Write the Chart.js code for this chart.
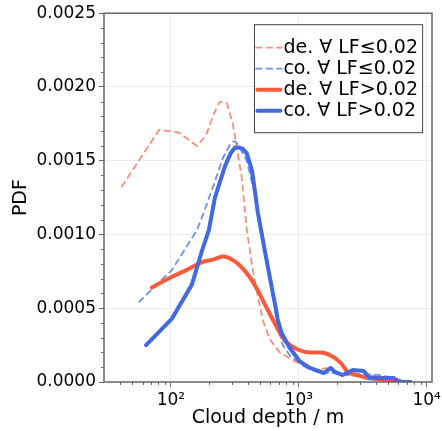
<!DOCTYPE html>
<html>
<head>
<meta charset="utf-8">
<script src="https://cdn.jsdelivr.net/npm/chart.js@4.4.1/dist/chart.umd.min.js"></script>
<style>
  html, body { margin: 0; padding: 0; background: #fff; }
  #wrap { width: 442px; height: 431px; }
</style>
</head>
<body>
<div id="wrap"><canvas id="pdfChart" width="442" height="431"></canvas></div>
<script>
// cloud depth (m) / PDF
const deLowDepth = [41, 81, 116, 160, 188, 217, 241, 274, 305, 328, 359, 392, 437, 478, 523, 593, 710, 898, 1155, 1383, 1655, 2090, 3000, 4066, 5141];
const deLowPdf = [0.00132, 0.00171, 0.00169, 0.00160, 0.00167, 0.00182, 0.00190, 0.00189, 0.00175, 0.00159, 0.00138, 0.00103, 0.00076, 0.00058, 0.00042, 0.00029, 0.00020, 0.00015, 0.000095, 0.000081, 0.000095, 0.000061, 0.000034, 0.000014, 0.0];

const coLowDepth = [56, 102, 131, 160, 181, 217, 255, 290, 305, 320, 334, 392, 445, 478, 542, 615, 673, 750, 851, 1018, 1383, 1844, 2503, 3278, 4294, 5623, 6978];
const coLowPdf = [0.00054, 0.00076, 0.00091, 0.00103, 0.00115, 0.00134, 0.00152, 0.00161, 0.00163, 0.00163, 0.00161, 0.00150, 0.00130, 0.00117, 0.00093, 0.00062, 0.00042, 0.00025, 0.00018, 0.00013, 0.000068, 0.000061, 0.000047, 0.000054, 0.000047, 0.000027, 0.0];

const deHighDepth = [71, 100, 133, 172, 213, 255, 300, 346, 414, 478, 533, 638, 763, 982, 1241, 1485, 1778, 2129, 2414, 2891, 3461, 4141, 4958, 5937];
const deHighPdf = [0.00064, 0.00071, 0.00076, 0.00081, 0.00083, 0.00085, 0.00083, 0.00079, 0.00071, 0.00062, 0.00054, 0.00041, 0.00029, 0.00022, 0.00020, 0.00020, 0.00018, 0.00013, 0.000068, 0.000047, 0.000027, 0.000020, 0.000014, 0.0];

const coHighDepth = [64, 102, 146, 175, 198, 221, 264, 293, 318, 340, 365, 392, 429, 453, 478, 542, 615, 661, 685, 736, 851, 1018, 1219, 1568, 1778, 1911, 2207, 2642, 3221, 3523, 4217, 5524, 5937, 7499];
const coHighPdf = [0.00025, 0.00043, 0.00066, 0.00089, 0.00103, 0.00125, 0.00146, 0.00155, 0.00159, 0.00159, 0.00158, 0.00155, 0.00144, 0.00130, 0.00115, 0.00089, 0.00064, 0.00050, 0.00042, 0.00033, 0.00023, 0.00014, 0.000095, 0.000061, 0.000095, 0.000068, 0.000047, 0.000081, 0.000075, 0.000034, 0.000027, 0.000027, 0.0, 0.0];

const seriesLabels = ['de. ∀ LF≤0.02', 'co. ∀ LF≤0.02', 'de. ∀ LF>0.02', 'co. ∀ LF>0.02'];

// axis ticks
const xMajorTicks = [100, 1000, 10000];
const xTickLabels = ['10²', '10³', '10⁴'];
const xMinorTicks = [40, 50, 60, 70, 80, 90, 200, 300, 400, 500, 600, 700, 800, 900, 2000, 3000, 4000, 5000, 6000, 7000, 8000, 9000];
const yMajorTicks = [0, 0.0005, 0.001, 0.0015, 0.002, 0.0025];
const yMinorTicks = [0.0001, 0.0002, 0.0003, 0.0004, 0.0006, 0.0007, 0.0008, 0.0009, 0.0011, 0.0012, 0.0013, 0.0014, 0.0016, 0.0017, 0.0018, 0.0019, 0.0021, 0.0022, 0.0023, 0.0024];

const toPoints = (xs, ys) => xs.map((x, i) => ({ x: x, y: ys[i] }));

const FONT = 'DejaVu Sans';

// minor ticks + full frame (matplotlib style spines)
const frameAndMinor = {
  id: 'frameAndMinor',
  afterDatasetsDraw(chart) {
    const { ctx, chartArea: a, scales: { x, y } } = chart;
    ctx.save();
    ctx.strokeStyle = '#666';
    ctx.lineWidth = 1;
    ctx.beginPath();
    xMinorTicks.forEach(v => {
      const px = Math.round(x.getPixelForValue(v)) + 0.5;
      ctx.moveTo(px, a.bottom);
      ctx.lineTo(px, a.bottom + 3);
    });
    yMinorTicks.forEach(v => {
      const py = Math.round(y.getPixelForValue(v)) + 0.5;
      ctx.moveTo(a.left, py);
      ctx.lineTo(a.left - 3, py);
    });
    ctx.stroke();
    ctx.lineWidth = 1.5;
    ctx.strokeRect(a.left, a.top, a.right - a.left, a.bottom - a.top);
    ctx.restore();
  }
};

// legend box inside the plot, upper right
const boxLegend = {
  id: 'boxLegend',
  afterDraw(chart) {
    const { ctx, chartArea: a } = chart;
    const sets = chart.data.datasets;
    ctx.save();
    ctx.font = '19px "' + FONT + '"';
    const textW = Math.max(...sets.map(d => ctx.measureText(d.label).width));
    const handle = 27, padL = 1.5, padR = 4, rowH = 21;
    const w = padL + handle + 1 + textW + padR;
    const h = 108;
    const right = a.right - 10, top = a.top + 11, left = right - w;
    ctx.fillStyle = 'rgba(255,255,255,0.8)';
    ctx.fillRect(left, top, w, h);
    ctx.strokeStyle = '#444';
    ctx.lineWidth = 1;
    ctx.strokeRect(Math.round(left) + 0.5, top + 0.5, w, h);
    sets.forEach((d, i) => {
      const cy = top + 23.5 + i * rowH;
      ctx.strokeStyle = d.borderColor;
      ctx.lineWidth = d.borderWidth;
      ctx.lineCap = d.borderCapStyle;
      ctx.setLineDash(d.borderDash || []);
      ctx.beginPath();
      ctx.moveTo(left + padL + (d.borderDash ? 0 : 2), cy);
      ctx.lineTo(left + padL + handle - (d.borderDash ? 0 : 2), cy);
      ctx.stroke();
      ctx.setLineDash([]);
      ctx.fillStyle = '#000';
      ctx.textBaseline = 'middle';
      ctx.fillText(d.label, left + padL + handle + 1, cy);
    });
    ctx.restore();
  }
};

const ctx = document.getElementById('pdfChart').getContext('2d');
new Chart(ctx, {
  type: 'line',
  data: {
    datasets: [
      {
        label: seriesLabels[0],
        data: toPoints(deLowDepth, deLowPdf),
        borderColor: '#F4907E',
        borderWidth: 1.8,
        borderDash: [7, 3.5],
        borderCapStyle: 'butt',
        order: 4,
      },
      {
        label: seriesLabels[1],
        data: toPoints(coLowDepth, coLowPdf),
        borderColor: '#6F8FEA',
        borderWidth: 1.8,
        borderDash: [7, 3.5],
        borderCapStyle: 'butt',
        order: 3,
      },
      {
        label: seriesLabels[2],
        data: toPoints(deHighDepth, deHighPdf),
        borderColor: '#FA5A3C',
        borderWidth: 4,
        borderCapStyle: 'round',
        cubicInterpolationMode: 'monotone',
        order: 2,
      },
      {
        label: seriesLabels[3],
        data: toPoints(coHighDepth, coHighPdf),
        borderColor: '#4169E1',
        borderWidth: 4,
        borderCapStyle: 'round',
        order: 1,
      }
    ],
  },
  options: {
    responsive: false,
    animation: false,
    devicePixelRatio: 1,
    layout: { padding: { left: 0, right: 10, top: 13, bottom: 0 } },
    elements: {
      point: { radius: 0, hoverRadius: 0 },
      line: { tension: 0, borderJoinStyle: 'round', fill: false },
    },
    plugins: {
      legend: { display: false },
      tooltip: { enabled: false },
    },
    scales: {
      x: {
        type: 'logarithmic',
        min: 30,
        max: 11000,
        afterBuildTicks: s => { s.ticks = xMajorTicks.map(v => ({ value: v })); },
        afterFit: s => { s.height = 49; s.paddingRight = 0; s.paddingLeft = 0; },
        ticks: {
          autoSkip: false,
          maxRotation: 0,
          padding: 3,
          color: '#000',
          font: { family: FONT, size: 17 },
          callback: (v, i) => xTickLabels[i],
        },
        grid: { color: '#ebebeb', lineWidth: 1, tickColor: '#666', tickLength: 5 },
        border: { display: false },
        title: { display: true, text: 'Cloud depth / m', color: '#000', font: { family: FONT, size: 19 }, padding: { top: 0, bottom: 1.6 } },
      },
      y: {
        type: 'linear',
        min: 0,
        max: 0.0025,
        afterBuildTicks: s => { s.ticks = yMajorTicks.map(v => ({ value: v })); },
        afterFit: s => { s.width = 104; },
        ticks: {
          padding: 3,
          color: '#000',
          font: { family: FONT, size: 17 },
          callback: v => Number(v).toFixed(4),
        },
        grid: { color: '#ebebeb', lineWidth: 1, tickColor: '#666', tickLength: 5 },
        border: { display: false },
        title: { display: true, text: 'PDF', color: '#000', font: { family: FONT, size: 19 }, padding: { top: 9.6, bottom: 0 } },
      },
    },
  },
  plugins: [frameAndMinor, boxLegend],
});
</script>
</body>
</html>
